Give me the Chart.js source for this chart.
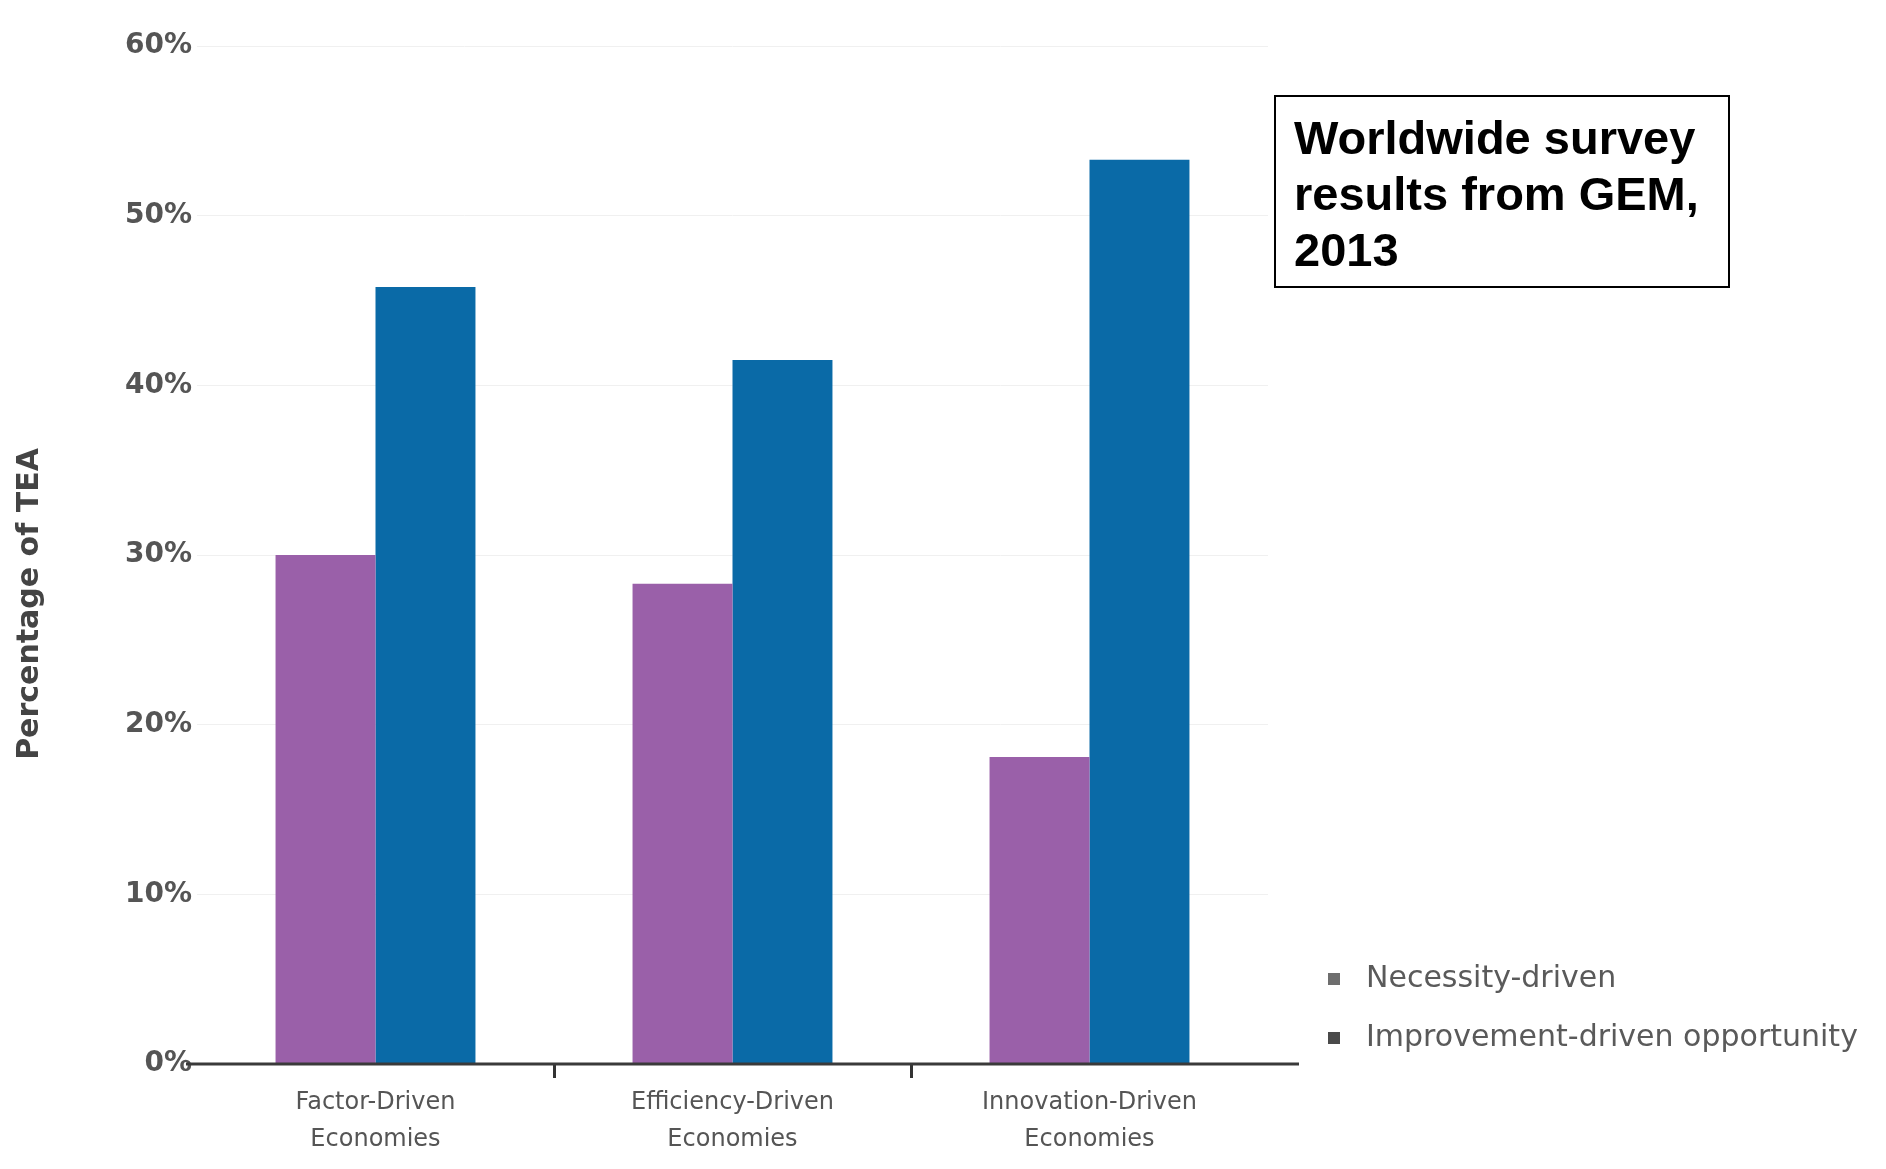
<!DOCTYPE html>
<html>
<head>
<meta charset="utf-8">
<script src="https://cdn.jsdelivr.net/npm/chart.js@4.4.1/dist/chart.umd.min.js"></script>
<style>
  body { margin: 0; background: #fff; }
  #wrap { position: relative; width: 1886px; height: 1169px; }
  #note {
    position: absolute; left: 1274px; top: 95px; width: 434px; height: 176px;
    border: 2px solid #000; padding: 13px 0 0 18px;
    font: bold 47px "Liberation Sans", Arial, sans-serif; line-height: 56px; color: #000;
  }
</style>
</head>
<body>
<div id="wrap">
  <canvas id="chart" width="1886" height="1169"></canvas>
  <div id="note">Worldwide survey<br>results from GEM,<br>2013</div>
</div>
<script>
const categories = [
  ['Factor-Driven', 'Economies'],
  ['Efficiency-Driven', 'Economies'],
  ['Innovation-Driven', 'Economies']
];
const seriesNames = ['Necessity-driven', 'Improvement-driven opportunity'];
const necessity = [30.0, 28.3, 18.1];
const opportunity = [45.8, 41.5, 53.3];
const yTicks = [0, 10, 20, 30, 40, 50, 60];
const yTitle = 'Percentage of TEA';

const PURPLE = '#9a60a9';
const BLUE = '#0a6aa7';
const FONT = '"DejaVu Sans", sans-serif';

// axis line runs a little past the plot; y title and legend drawn by hand
const extras = {
  id: 'extras',
  afterDraw(chart) {
    const c = chart.ctx;
    const a = chart.chartArea;
    c.save();
    c.strokeStyle = '#3a3a3a';
    c.lineWidth = 3;
    c.beginPath();
    c.moveTo(a.left - 11, a.bottom);
    c.lineTo(a.right + 31, a.bottom);
    c.stroke();

    c.save();
    c.translate(30, 604);
    c.rotate(-Math.PI / 2);
    c.font = 'bold 30px ' + FONT;
    c.fillStyle = '#444';
    c.textAlign = 'center';
    c.textBaseline = 'middle';
    c.fillText(yTitle, 0, 0);
    c.restore();

    const marks = ['#6e6e6e', '#4a4a4a'];
    c.font = '30px ' + FONT;
    c.textBaseline = 'middle';
    chart.data.datasets.forEach((ds, i) => {
      const y = 979 + i * 59;
      c.fillStyle = marks[i];
      c.fillRect(1328, y - 6, 12, 12);
      c.fillStyle = '#5a5a5a';
      c.fillText(ds.label, 1366, y);
    });
    c.restore();
  }
};

new Chart(document.getElementById('chart'), {
  type: 'bar',
  data: {
    labels: categories,
    datasets: [
      { label: seriesNames[0], data: necessity, backgroundColor: PURPLE },
      { label: seriesNames[1], data: opportunity, backgroundColor: BLUE }
    ]
  },
  options: {
    responsive: false,
    animation: false,
    layout: { padding: { left: 0, right: 618, top: 46, bottom: 0 } },
    datasets: { bar: { categoryPercentage: 0.56, barPercentage: 1 } },
    plugins: {
      legend: { display: false },
      tooltip: { enabled: false }
    },
    scales: {
      x: {
        offset: true,
        afterFit(s) { s.height = 105; },
        border: { display: false },
        grid: {
          offset: true,
          drawOnChartArea: false,
          tickLength: 14,
          tickWidth: 3,
          tickColor: ctx => (ctx.index === 1 || ctx.index === 2) ? '#333' : 'rgba(0,0,0,0)'
        },
        ticks: { color: '#555', padding: 6, font: { family: FONT, size: 24, lineHeight: 1.55 } }
      },
      y: {
        min: 0,
        max: 60,
        afterFit(s) { s.width = 197; },
        afterBuildTicks(s) { s.ticks = yTicks.map(v => ({ value: v })); },
        border: { display: false },
        grid: { color: '#f0f0f0', drawTicks: false },
        ticks: {
          color: '#555', padding: 5,
          font: { family: FONT, size: 28, weight: 'bold' },
          callback: v => v + '%'
        }
      }
    }
  },
  plugins: [extras]
});
</script>
</body>
</html>
